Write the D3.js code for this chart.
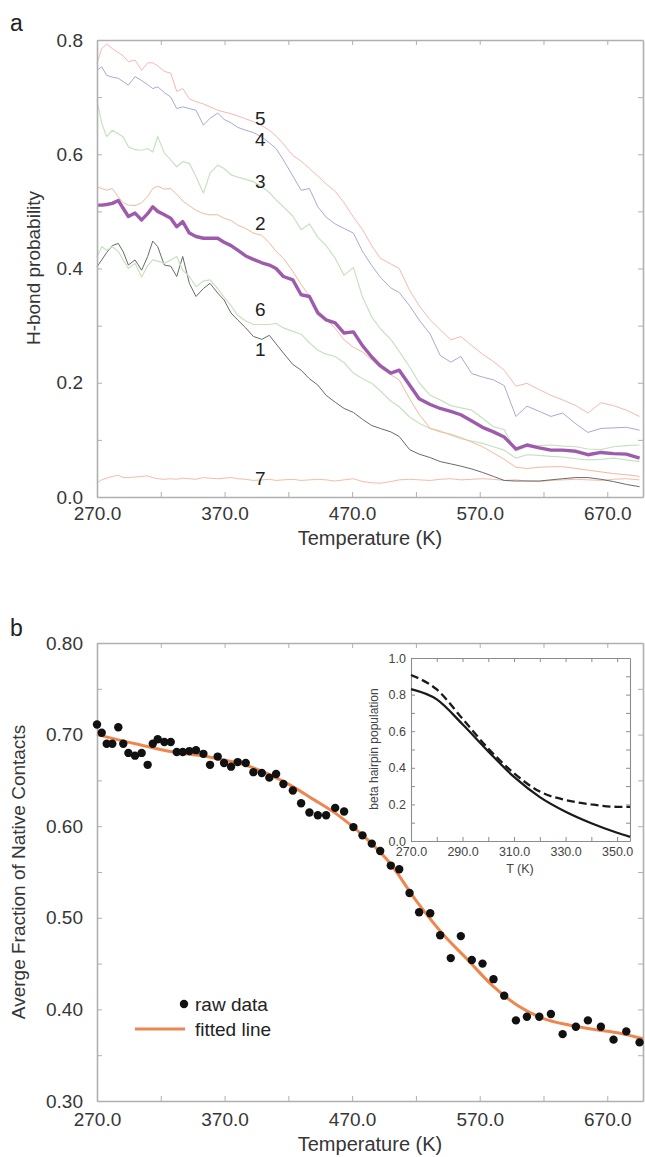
<!DOCTYPE html>
<html>
<head>
<meta charset="utf-8">
<script src="https://cdn.jsdelivr.net/npm/d3@7"></script>
<style>
body { margin: 0; background: #fff; }
svg text { font-family: "Liberation Sans", Arial, Helvetica, sans-serif; }
</style>
</head>
<body>
<div id="fig"></div>
<script>
//temperatures of the replicas (K) in panel b
var temps = [270, 273.7, 277.6, 282, 286.7, 290.6, 294.6, 299.8, 305, 309.7,
  313.7, 317.6, 322.8, 327.8, 332.5, 337.2, 342.4, 347.6, 353.4, 358.6,
  364.6, 369.6, 375.1, 380.3, 386.6, 392.6, 399.2, 405.1, 410.4, 416.1,
  423.5, 430, 436.5, 443.1, 449.6, 456.7, 463.7, 471, 478.1, 485.4,
  492, 500.3, 506.9, 515, 522.5, 531.2, 539, 547.3, 555.2, 563.8,
  572.2, 580.8, 589.2, 598.4, 607, 616.7, 625.8, 635, 645.4, 654.8,
  665, 674.9, 684.9, 695.3];

//panel a : H-bond probabilities
var hb5 = [0.759, 0.785, 0.793, 0.785, 0.778, 0.772, 0.762, 0.765, 0.747, 0.760,
  0.760, 0.755, 0.745, 0.742, 0.710, 0.715, 0.697, 0.692, 0.688, 0.683,
  0.677, 0.674, 0.671, 0.667, 0.662, 0.657, 0.650, 0.642, 0.632, 0.618,
  0.598, 0.588, 0.575, 0.562, 0.548, 0.535, 0.515, 0.490, 0.468, 0.440,
  0.418, 0.408, 0.400, 0.362, 0.335, 0.310, 0.293, 0.275, 0.281, 0.265,
  0.250, 0.237, 0.222, 0.194, 0.199, 0.188, 0.178, 0.170, 0.160, 0.147,
  0.165, 0.160, 0.152, 0.141];
var hb4 = [0.747, 0.753, 0.738, 0.735, 0.733, 0.727, 0.721, 0.736, 0.729, 0.722,
  0.715, 0.718, 0.708, 0.700, 0.680, 0.683, 0.680, 0.677, 0.651, 0.663,
  0.672, 0.661, 0.655, 0.647, 0.642, 0.638, 0.630, 0.620, 0.610, 0.590,
  0.562, 0.537, 0.540, 0.508, 0.490, 0.478, 0.470, 0.462, 0.430, 0.405,
  0.385, 0.366, 0.358, 0.335, 0.310, 0.285, 0.248, 0.236, 0.246, 0.216,
  0.210, 0.205, 0.195, 0.141, 0.159, 0.150, 0.141, 0.147, 0.128, 0.113,
  0.120, 0.121, 0.122, 0.117];
var hb3 = [0.695, 0.654, 0.631, 0.642, 0.636, 0.630, 0.613, 0.608, 0.607, 0.610,
  0.604, 0.631, 0.602, 0.590, 0.578, 0.587, 0.584, 0.561, 0.532, 0.567,
  0.581, 0.575, 0.564, 0.560, 0.556, 0.552, 0.543, 0.533, 0.520, 0.508,
  0.492, 0.468, 0.478, 0.455, 0.440, 0.418, 0.388, 0.402, 0.350, 0.315,
  0.295, 0.276, 0.255, 0.228, 0.200, 0.178, 0.170, 0.160, 0.156, 0.152,
  0.138, 0.123, 0.118, 0.080, 0.088, 0.090, 0.091, 0.089, 0.088, 0.084,
  0.083, 0.088, 0.090, 0.091];
var hb2 = [0.543, 0.540, 0.537, 0.540, 0.525, 0.515, 0.511, 0.510, 0.515, 0.526,
  0.540, 0.544, 0.539, 0.540, 0.530, 0.518, 0.510, 0.502, 0.496, 0.494,
  0.494, 0.488, 0.484, 0.476, 0.470, 0.462, 0.458, 0.445, 0.430, 0.418,
  0.395, 0.372, 0.352, 0.327, 0.312, 0.295, 0.275, 0.262, 0.254, 0.240,
  0.226, 0.214, 0.205, 0.172, 0.145, 0.120, 0.114, 0.110, 0.104, 0.096,
  0.088, 0.077, 0.066, 0.052, 0.050, 0.052, 0.053, 0.053, 0.050, 0.047,
  0.044, 0.041, 0.039, 0.036];
var hbAvg = [0.511, 0.511, 0.512, 0.514, 0.519, 0.505, 0.491, 0.497, 0.485, 0.496,
  0.508, 0.500, 0.494, 0.488, 0.473, 0.482, 0.462, 0.456, 0.453, 0.453,
  0.453, 0.446, 0.440, 0.432, 0.422, 0.416, 0.410, 0.406, 0.400, 0.386,
  0.380, 0.354, 0.351, 0.322, 0.310, 0.305, 0.287, 0.289, 0.265, 0.245,
  0.230, 0.217, 0.222, 0.196, 0.172, 0.162, 0.155, 0.150, 0.144, 0.133,
  0.122, 0.114, 0.105, 0.084, 0.091, 0.086, 0.082, 0.082, 0.080, 0.074,
  0.078, 0.076, 0.075, 0.068];
var hb6 = [0.420, 0.438, 0.432, 0.438, 0.430, 0.415, 0.400, 0.409, 0.385, 0.405,
  0.415, 0.413, 0.409, 0.415, 0.421, 0.397, 0.386, 0.368, 0.378, 0.380,
  0.365, 0.350, 0.335, 0.318, 0.308, 0.302, 0.302, 0.302, 0.304, 0.296,
  0.290, 0.285, 0.270, 0.257, 0.250, 0.246, 0.235, 0.217, 0.207, 0.199,
  0.186, 0.168, 0.158, 0.140, 0.129, 0.120, 0.116, 0.108, 0.102, 0.098,
  0.094, 0.088, 0.082, 0.068, 0.074, 0.073, 0.071, 0.070, 0.067, 0.065,
  0.066, 0.068, 0.065, 0.062];
var hb1 = [0.403, 0.415, 0.428, 0.440, 0.444, 0.429, 0.406, 0.415, 0.397, 0.421,
  0.448, 0.438, 0.406, 0.404, 0.386, 0.421, 0.374, 0.351, 0.365, 0.374,
  0.357, 0.345, 0.322, 0.310, 0.296, 0.281, 0.276, 0.283, 0.268, 0.252,
  0.232, 0.222, 0.207, 0.196, 0.178, 0.166, 0.155, 0.148, 0.136, 0.125,
  0.120, 0.114, 0.106, 0.083, 0.075, 0.069, 0.062, 0.058, 0.054, 0.049,
  0.043, 0.036, 0.029, 0.028, 0.028, 0.028, 0.030, 0.032, 0.034, 0.034,
  0.031, 0.027, 0.022, 0.018];
var hb7 = [0.025, 0.030, 0.033, 0.036, 0.038, 0.034, 0.034, 0.035, 0.036, 0.037,
  0.034, 0.032, 0.031, 0.032, 0.031, 0.033, 0.032, 0.031, 0.034, 0.033,
  0.032, 0.033, 0.034, 0.032, 0.031, 0.029, 0.030, 0.031, 0.029, 0.030,
  0.031, 0.029, 0.030, 0.031, 0.030, 0.028, 0.030, 0.032, 0.027, 0.025,
  0.024, 0.027, 0.030, 0.031, 0.030, 0.029, 0.031, 0.032, 0.030, 0.031,
  0.032, 0.031, 0.029, 0.030, 0.028, 0.027, 0.029, 0.030, 0.031, 0.030,
  0.029, 0.031, 0.032, 0.030];

//line numbers written next to the curves
var curveNames = ["5", "4", "3", "2", "6", "1", "7"];
var curveNameT = 398;
var curveNameVals = [0.663, 0.626, 0.553, 0.479, 0.329, 0.259, 0.033];

//panel b : average fraction of native contacts
var contacts = [0.711, 0.702, 0.690, 0.690, 0.708, 0.690, 0.680, 0.677, 0.680, 0.667,
  0.690, 0.695, 0.692, 0.692, 0.681, 0.681, 0.682, 0.683, 0.679, 0.667,
  0.676, 0.669, 0.665, 0.670, 0.669, 0.659, 0.658, 0.653, 0.657, 0.646,
  0.639, 0.625, 0.615, 0.612, 0.612, 0.620, 0.616, 0.599, 0.590, 0.581,
  0.573, 0.557, 0.553, 0.527, 0.506, 0.505, 0.481, 0.456, 0.480, 0.454,
  0.450, 0.433, 0.415, 0.388, 0.392, 0.392, 0.395, 0.373, 0.381, 0.388,
  0.381, 0.367, 0.376, 0.364];
var fitT = [270, 300, 330, 360, 390, 420, 440, 460, 480, 500, 520, 540, 560, 580, 600, 620, 640, 660, 680, 698];
var fitV = [0.700, 0.690, 0.681, 0.675, 0.665, 0.646, 0.629, 0.611, 0.588, 0.559,
  0.519, 0.484, 0.455, 0.426, 0.404, 0.390, 0.383, 0.378, 0.374, 0.368];

//inset : beta hairpin population
var insetT = [270, 280, 290, 300, 310, 320, 330, 340, 350, 355];
var insetSolid = [0.83, 0.774, 0.638, 0.49, 0.35, 0.24, 0.16, 0.097, 0.045, 0.023];
var insetDashed = [0.907, 0.828, 0.668, 0.505, 0.37, 0.27, 0.224, 0.20, 0.187, 0.187];

//ticks
var tempTicks = [270, 320, 370, 420, 470, 520, 570, 620, 670];
var tempLabels = [270, 370, 470, 570, 670];
var hbTicks = [0, 0.1, 0.2, 0.3, 0.4, 0.5, 0.6, 0.7, 0.8];
var hbLabels = [0, 0.2, 0.4, 0.6, 0.8];
var ncTicks = [0.3, 0.35, 0.4, 0.45, 0.5, 0.55, 0.6, 0.65, 0.7, 0.75, 0.8];
var ncLabels = [0.3, 0.4, 0.5, 0.6, 0.7, 0.8];
var insXTicks = [270, 280, 290, 300, 310, 320, 330, 340, 350];
var insXLabels = [270, 290, 310, 330, 350];
var insYTicks = [0, 0.1, 0.2, 0.3, 0.4, 0.5, 0.6, 0.7, 0.8, 0.9, 1.0];
var insYLabels = [0, 0.2, 0.4, 0.6, 0.8, 1.0];

var w = 645,
    h = 1157;
var axisColor = "#b0b0b0",
    textColor = "#363636";

var svg = d3.select("#fig").append("svg")
    .attr("width", w)
    .attr("height", h);

svg.append("rect").attr("width", w).attr("height", h).attr("fill", "#fff");

//draws the box round a plot, with inward ticks on all four sides
function drawFrame(x, y, xt, xl, yt, yl, fx, fy, o) {
	var x0 = x.range()[0], x1 = x.range()[1],
	    y0 = y.range()[0], y1 = y.range()[1];
	var g = svg.append("g");
	g.append("g")
		.attr("transform", "translate(0," + y0 + ")")
		.call(d3.axisBottom(x).tickValues(xt).tickSizeInner(-o.tick).tickSizeOuter(0)
			.tickPadding(o.padX)
			.tickFormat(function(d) { return xl.indexOf(d) >= 0 ? fx(d) : ""; }));
	g.append("g")
		.attr("transform", "translate(0," + y1 + ")")
		.call(d3.axisTop(x).tickValues(xt).tickSizeInner(-o.tick).tickSizeOuter(0).tickFormat(""));
	g.append("g")
		.attr("transform", "translate(" + x0 + ",0)")
		.call(d3.axisLeft(y).tickValues(yt).tickSizeInner(-o.tick).tickSizeOuter(0)
			.tickPadding(o.padY)
			.tickFormat(function(d) { return yl.indexOf(d) >= 0 ? fy(d) : ""; }));
	g.append("g")
		.attr("transform", "translate(" + x1 + ",0)")
		.call(d3.axisRight(y).tickValues(yt).tickSizeInner(-o.tick).tickSizeOuter(0).tickFormat(""));
	g.selectAll(".domain").attr("stroke", o.color).attr("stroke-width", o.sw);
	g.selectAll(".tick line").attr("stroke", o.color).attr("stroke-width", 1);
	g.selectAll("text")
		.attr("font-size", o.fs)
		.attr("fill", o.text);
	g.selectAll("g").attr("font-family", null);
	return g;
}

/* ---------------- panel a ---------------- */
var xa = d3.scaleLinear().domain([270, 698]).range([97, 643]);
var ya = d3.scaleLinear().domain([0, 0.8]).range([497, 40]);

var lineA = d3.line()
	.x(function(d, i) { return xa(temps[i]); })
	.y(function(d) { return ya(d); });

var seriesA = [hb7, hb1, hb6, hb3, hb2, hb4, hb5, hbAvg];
var colorsA = ["#f6bca4", "#6a6a6a", "#c6e3bf", "#c6e3bf", "#f5b899", "#a9a9d6", "#f7b8b0", "#9e5bad"];
var widthsA = [1, 1, 1.2, 1.2, 1, 1, 1, 3.4];

svg.append("g").selectAll("path")
	.data(seriesA)
	.enter().append("path")
	.attr("d", lineA)
	.attr("fill", "none")
	.attr("stroke", function(d, i) { return colorsA[i]; })
	.attr("stroke-width", function(d, i) { return widthsA[i]; })
	.attr("stroke-linejoin", "round");

drawFrame(xa, ya, tempTicks, tempLabels, hbTicks, hbLabels, d3.format(".1f"), d3.format(".1f"),
	{tick: 5, padX: 10, padY: 14, color: axisColor, sw: 1.6, fs: 19, text: textColor});

svg.append("g").selectAll("text")
	.data(curveNames)
	.enter().append("text")
	.text(function(d) { return d; })
	.attr("x", xa(curveNameT))
	.attr("y", function(d, i) { return ya(curveNameVals[i]); })
	.attr("dy", "0.35em")
	.attr("text-anchor", "middle")
	.attr("font-size", 19)
	.attr("fill", "#222");

svg.append("text")
	.text("a")
	.attr("x", 10)
	.attr("y", 31)
	.attr("font-size", 23)
	.attr("fill", "#222");

svg.append("text")
	.text("Temperature (K)")
	.attr("x", 370)
	.attr("y", 545)
	.attr("text-anchor", "middle")
	.attr("font-size", 20)
	.attr("fill", textColor);

svg.append("text")
	.text("H-bond probability")
	.attr("transform", "translate(40,268) rotate(-90)")
	.attr("text-anchor", "middle")
	.attr("font-size", 19)
	.attr("fill", textColor);

/* ---------------- panel b ---------------- */
var xb = d3.scaleLinear().domain([270, 698]).range([97, 643]);
var yb = d3.scaleLinear().domain([0.3, 0.8]).range([1101, 643]);

drawFrame(xb, yb, tempTicks, tempLabels, ncTicks, ncLabels, d3.format(".1f"), d3.format(".2f"),
	{tick: 5, padX: 12, padY: 14, color: axisColor, sw: 1.6, fs: 19, text: textColor});

svg.append("path")
	.datum(fitV)
	.attr("d", d3.line()
		.curve(d3.curveMonotoneX)
		.x(function(d, i) { return xb(fitT[i]); })
		.y(function(d) { return yb(d); }))
	.attr("fill", "none")
	.attr("stroke", "#ee8650")
	.attr("stroke-width", 3);

svg.append("g").selectAll("circle")
	.data(contacts)
	.enter().append("circle")
	.attr("cx", function(d, i) { return xb(temps[i]); })
	.attr("cy", function(d) { return yb(d); })
	.attr("r", 4.2)
	.attr("fill", "#111");

//legend
svg.append("circle").attr("cx", 184).attr("cy", 1004).attr("r", 4.2).attr("fill", "#111");
svg.append("text").text("raw data")
	.attr("x", 195).attr("y", 1011)
	.attr("font-size", 19).attr("fill", "#222");
svg.append("line")
	.attr("x1", 135).attr("x2", 185).attr("y1", 1029).attr("y2", 1029)
	.attr("stroke", "#ee8650").attr("stroke-width", 3);
svg.append("text").text("fitted line")
	.attr("x", 195).attr("y", 1036)
	.attr("font-size", 19).attr("fill", "#222");

svg.append("text")
	.text("b")
	.attr("x", 10)
	.attr("y", 636)
	.attr("font-size", 23)
	.attr("fill", "#222");

svg.append("text")
	.text("Temperature (K)")
	.attr("x", 370)
	.attr("y", 1151)
	.attr("text-anchor", "middle")
	.attr("font-size", 20)
	.attr("fill", textColor);

svg.append("text")
	.text("Averge Fraction of Native Contacts")
	.attr("transform", "translate(25,872) rotate(-90)")
	.attr("text-anchor", "middle")
	.attr("font-size", 19)
	.attr("fill", textColor);

/* ---------------- inset ---------------- */
var xi = d3.scaleLinear().domain([270, 355]).range([411, 630]);
var yi = d3.scaleLinear().domain([0, 1]).range([841, 658]);

svg.append("rect")
	.attr("x", 411).attr("y", 658)
	.attr("width", 219).attr("height", 183)
	.attr("fill", "#fff");

drawFrame(xi, yi, insXTicks, insXLabels, insYTicks, insYLabels, d3.format(".1f"), d3.format(".1f"),
	{tick: 4, padX: 6, padY: 5, color: "#8c8c8c", sw: 1.1, fs: 12.5, text: "#444"});

var lineI = d3.line()
	.curve(d3.curveMonotoneX)
	.x(function(d, i) { return xi(insetT[i]); })
	.y(function(d) { return yi(d); });

svg.append("path")
	.datum(insetSolid)
	.attr("d", lineI)
	.attr("fill", "none")
	.attr("stroke", "#1a1a1a")
	.attr("stroke-width", 2.3);

svg.append("path")
	.datum(insetDashed)
	.attr("d", lineI)
	.attr("fill", "none")
	.attr("stroke", "#1a1a1a")
	.attr("stroke-width", 2.3)
	.attr("stroke-dasharray", "8,4");

svg.append("text")
	.text("T (K)")
	.attr("x", 520)
	.attr("y", 873)
	.attr("text-anchor", "middle")
	.attr("font-size", 12.5)
	.attr("fill", "#444");

svg.append("text")
	.text("beta hairpin population")
	.attr("transform", "translate(378,749) rotate(-90)")
	.attr("text-anchor", "middle")
	.attr("font-size", 12)
	.attr("fill", "#444");
</script>
</body>
</html>
